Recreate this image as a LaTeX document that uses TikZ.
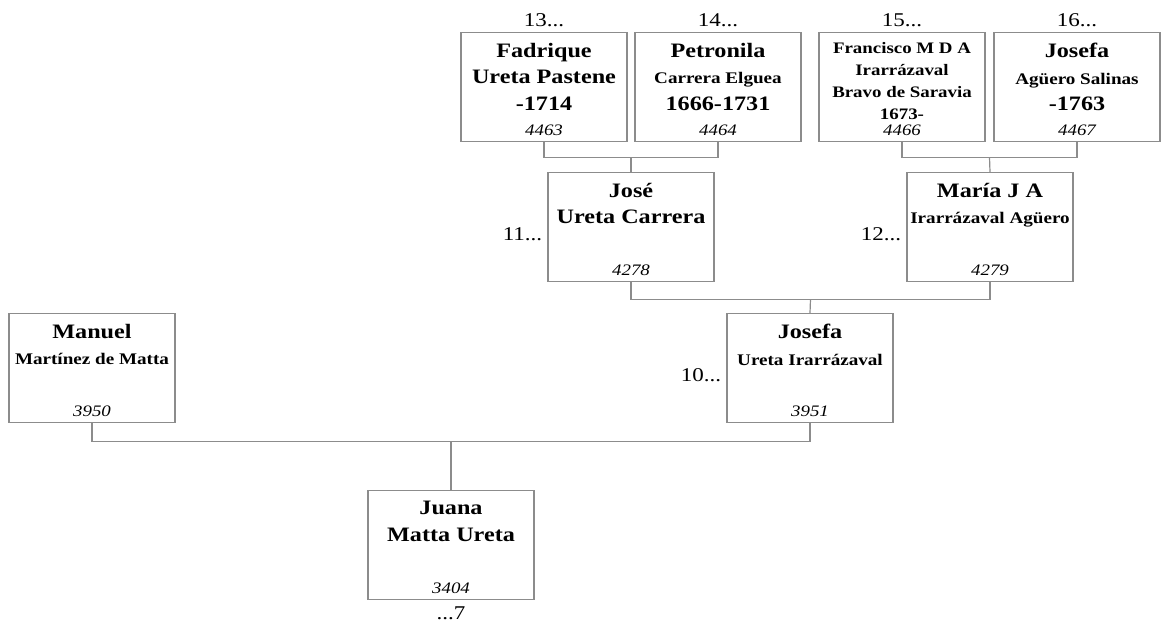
\documentclass[tikz,border=0pt]{standalone}
\usepackage{fontspec}
\setmainfont[FakeStretch=1.18]{Liberation Serif}
\usepackage{tikz}
\usetikzlibrary{positioning, calc}
\definecolor{boxGray}{HTML}{8C8C8C}
\tikzset{
  person/.style={draw=boxGray, line width=1.2pt, minimum width=166pt,
    minimum height=109pt, anchor=north, inner sep=0pt},
  pname/.style={anchor=north, inner sep=0pt, align=center,
    font=\bfseries\fontsize{20.5}{26.5}\selectfont},
  psmall/.style={pname, font=\bfseries\fontsize{16}{22}\selectfont},
  pid/.style={anchor=south, inner sep=0pt, font=\itshape\fontsize{16}{18}\selectfont},
  gen/.style={inner sep=0pt, font=\fontsize{19.5}{22}\selectfont},
  link/.style={draw=boxGray, line width=1.2pt}
}
\newcommand{\sm}[1]{{\fontsize{16.2}{22}\selectfont #1}}

\begin{document}
\begin{tikzpicture}[x=1pt, y=-1pt]
\useasboundingbox (0,0) rectangle (1163,628);

\node[person] (fadrique) at (544,32) {};
\node[pname] (fadriqueN) at ($(fadrique.north)+(0,11)$) {Fadrique\\Ureta Pastene\\-1714};
\node[pid] (fadriqueI) at ($(fadrique.south)+(0,-6)$) {4463};
\node[gen, anchor=south] (g13) at ($(fadrique.north)+(0,-5)$) {13...};

\node[person] (petronila) at (718,32) {};
\node[pname] (petronilaN) at ($(petronila.north)+(0,11)$) {Petronila\\\sm{Carrera Elguea}\\1666-1731};
\node[pid] (petronilaI) at ($(petronila.south)+(0,-6)$) {4464};
\node[gen, anchor=south] (g14) at ($(petronila.north)+(0,-5)$) {14...};

\node[person] (francisco) at (902,32) {};
\node[psmall] (franciscoN) at ($(francisco.north)+(0,10)$) {Francisco M D A\\Irarrázaval\\Bravo de Saravia\\1673-};
\node[pid] (franciscoI) at ($(francisco.south)+(0,-6)$) {4466};
\node[gen, anchor=south] (g15) at ($(francisco.north)+(0,-5)$) {15...};

\node[person] (josefaA) at (1077,32) {};
\node[pname] (josefaAN) at ($(josefaA.north)+(0,11)$) {Josefa\\\sm{Agüero Salinas}\\-1763};
\node[pid] (josefaAI) at ($(josefaA.south)+(0,-6)$) {4467};
\node[gen, anchor=south] (g16) at ($(josefaA.north)+(0,-5)$) {16...};

\node[person] (jose) at (631,172) {};
\node[pname] (joseN) at ($(jose.north)+(0,11)$) {José\\Ureta Carrera};
\node[pid] (joseI) at ($(jose.south)+(0,-6)$) {4278};
\node[gen, anchor=base east] (g11) at ($(jose.west)+(-5,13)$) {11...};

\node[person] (maria) at (990,172) {};
\node[pname] (mariaN) at ($(maria.north)+(0,11)$) {María J A\\\sm{Irarrázaval Agüero}};
\node[pid] (mariaI) at ($(maria.south)+(0,-6)$) {4279};
\node[gen, anchor=base east] (g12) at ($(maria.west)+(-5,13)$) {12...};

\node[person] (manuel) at (92,313) {};
\node[pname] (manuelN) at ($(manuel.north)+(0,11)$) {Manuel\\\sm{Martínez de Matta}};
\node[pid] (manuelI) at ($(manuel.south)+(0,-6)$) {3950};

\node[person] (josefa) at (810,313) {};
\node[pname] (josefaN) at ($(josefa.north)+(0,11)$) {Josefa\\\sm{Ureta Irarrázaval}};
\node[pid] (josefaI) at ($(josefa.south)+(0,-6)$) {3951};
\node[gen, anchor=base east] (g10) at ($(josefa.west)+(-5,13)$) {10...};

\node[person] (juana) at (451,490) {};
\node[pname] (juanaN) at ($(juana.north)+(0,11)$) {Juana\\Matta Ureta};
\node[pid] (juanaI) at ($(juana.south)+(0,-6)$) {3404};
\node[gen, anchor=north] (g7) at ($(juana.south)+(0,6)$) {...7};

\coordinate (u1) at ($(fadrique.south)!.5!(petronila.south)+(0,15)$);
\draw[link] (fadrique.south) |- (u1) -| (petronila.south);
\draw[link] (u1) -- (jose.north);

\coordinate (u2) at ($(francisco.south)!.5!(josefaA.south)+(0,15)$);
\draw[link] (francisco.south) |- (u2) -| (josefaA.south);
\draw[link] (u2) -- (maria.north);

\coordinate (u3) at ($(jose.south)!.5!(maria.south)+(0,17)$);
\draw[link] (jose.south) |- (u3) -| (maria.south);
\draw[link] (u3) -- (josefa.north);

\coordinate (u4) at ($(manuel.south)!.5!(josefa.south)+(0,18)$);
\draw[link] (manuel.south) |- (u4) -| (josefa.south);
\draw[link] (u4) -- (juana.north);
\end{tikzpicture}
\end{document}
